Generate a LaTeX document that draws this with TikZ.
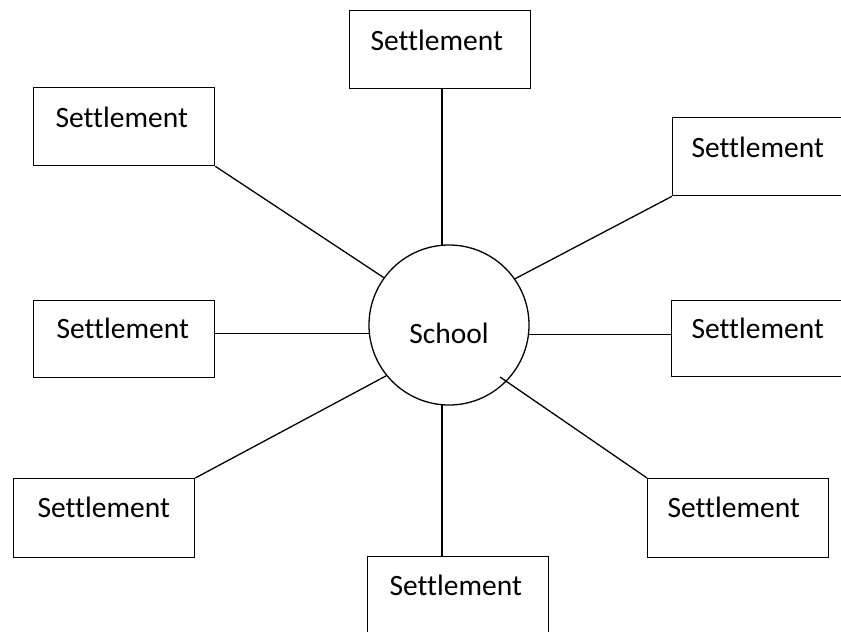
\documentclass[tikz,border=0pt]{standalone}
\usepackage{fontspec}
\setmainfont{Carlito}[Ligatures=NoCommon]
\begin{document}
\begin{tikzpicture}[x=1pt,y=-1pt,
  line width=1.3pt,
  stl/.style={draw, rectangle, anchor=north west, inner ysep=0pt,
    inner xsep=#1, text width=181pt-2*#1, align=left,
    text height=40pt, text depth=38pt,
    font=\fontsize{29.5}{35}\selectfont},
  stl/.default=21pt,
  sch/.style={draw, circle, minimum size=160pt, inner sep=0pt,
    text height=36pt, text depth=0pt,
    font=\fontsize{29.5}{35}\selectfont}]
\useasboundingbox (0,0) rectangle (841,632);
\clip (0,0) rectangle (841,632);
% boxes
\node[stl=21pt] (tb) at (349,10) {Settlement};
\node[stl=22pt] (tl) at (33,87) {Settlement};
\node[stl=19pt] (ru) at (672,117) {Settlement};
\node[stl=23pt, text height=38pt, text depth=39pt] (lm) at (33,300) {Settlement};
\node[stl=20pt, text height=38pt, text depth=38pt] (rm) at (671,300) {Settlement};
\node[stl=24pt, text height=39pt, text depth=40pt] (bl) at (13,478) {Settlement};
\node[stl=20pt, text height=39pt, text depth=40pt] (br) at (647,478) {Settlement};
\node[stl=22pt, text height=39pt, text depth=40pt] (bb) at (367,556) {Settlement};
% school
\node[sch] (s) at (449,325) {School};
\coordinate (brin) at (500,377);
% connectors
\draw (s.95) -- (s.95 |- tb.south);
\draw (s.144) -- (tl.south east);
\draw (s.35) -- (ru.south west);
\draw (s.186) -- (s.186 -| lm.east);
\draw (s.-7) -- (s.-7 -| rm.west);
\draw (s.219) -- (bl.north east);
\draw (brin) -- (br.north west);
\draw (s.265) -- (s.265 |- bb.north);
\end{tikzpicture}
\end{document}
